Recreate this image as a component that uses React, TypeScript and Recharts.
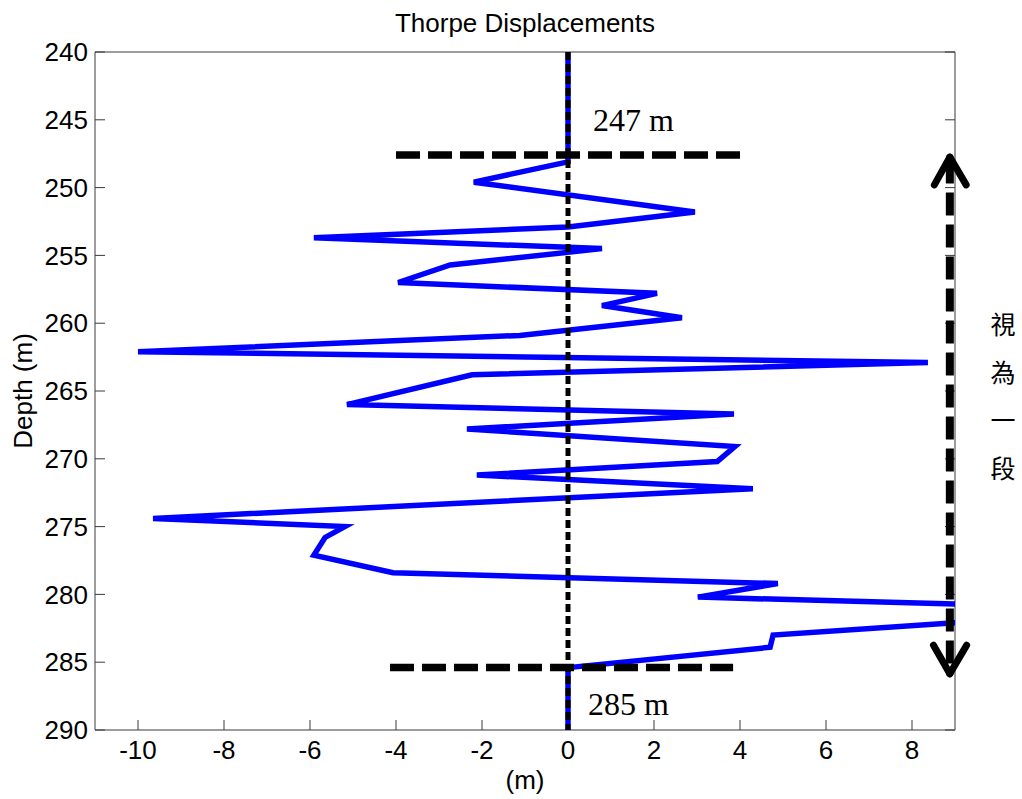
import { ScatterChart, Scatter, XAxis, YAxis, ReferenceLine } from 'recharts';

// Thorpe displacement profile (depth in m, displacement in m)
const depths = [
  240, 248.1, 249.6, 251.8, 252.9, 253.7, 254.5, 255.7, 257.0, 257.8, 258.7,
  259.6, 260.9, 262.1, 262.9, 263.8, 266.0, 266.7, 267.8, 269.1, 270.2,
  271.2, 272.2, 274.4, 275.0, 275.8, 277.1, 278.4, 279.2, 280.2, 280.8,
  281.9, 283.0, 283.9, 285.4, 290,
];
const displacements = [
  0, 0, -2.19, 2.95, 0, -5.91, 0.79, -2.74, -3.95, 2.07, 0.79,
  2.65, -1.12, -10.0, 8.37, -2.23, -5.14, 3.86, -2.35, 3.88, 3.47,
  -2.12, 4.3, -9.65, -5.19, -5.65, -5.91, -4.07, 4.88, 3.02, 10.0,
  9.9, 4.77, 4.7, 0, 0,
];

const xTicks = [-10, -8, -6, -4, -2, 0, 2, 4, 6, 8];
const yTicks = [240, 245, 250, 255, 260, 265, 270, 275, 280, 285, 290];

// overturning segment limits and annotation lines
const topDepth = 247.6;
const bottomDepth = 285.4;
const arrowX = 8.88;
const zeroLine = [{ x: 0, depth: 240 }, { x: 0, depth: 290 }];
const topLimit = [{ x: -4, depth: topDepth }, { x: 4, depth: topDepth }];
const bottomLimit = [{ x: -4.14, depth: bottomDepth }, { x: 3.84, depth: bottomDepth }];

const profile = depths.map((depth, i) => ({ x: displacements[i], depth }));

const SANS = '"Liberation Sans", Arial, sans-serif';
const SERIF = '"Liberation Serif", "Times New Roman", serif';
const CJK = '"Noto Sans CJK TC", "Noto Sans CJK SC", sans-serif';
const AXIS = '#3a3a3a';
const tickStyle = { fontSize: 26, fill: '#000', fontFamily: SANS };

const NoDot = () => <g />;
const blank = () => '';

export default function App() {
  return (
    <div style={{ position: 'absolute', left: 0, top: 0, width: 1022, height: 799, background: '#fff' }}>
      <ScatterChart width={1022} height={799} margin={{ top: 0, right: 0, bottom: 0, left: 0 }}>
        <XAxis
          type="number"
          dataKey="x"
          domain={[-11, 9]}
          ticks={xTicks}
          interval={0}
          allowDataOverflow
          height={69}
          tickSize={-10}
          tickMargin={21}
          tick={tickStyle}
          axisLine={{ stroke: AXIS }}
          tickLine={{ stroke: AXIS }}
        />
        <XAxis
          xAxisId="top"
          orientation="top"
          type="number"
          domain={[-11, 9]}
          ticks={xTicks}
          interval={0}
          allowDataOverflow
          height={52}
          tickSize={-10}
          tickFormatter={blank}
          axisLine={{ stroke: AXIS }}
          tickLine={{ stroke: AXIS }}
        />
        <YAxis
          type="number"
          dataKey="depth"
          domain={[240, 290]}
          ticks={yTicks}
          interval={0}
          reversed
          allowDataOverflow
          width={95}
          tickSize={-10}
          tickMargin={17}
          tick={tickStyle}
          axisLine={{ stroke: AXIS }}
          tickLine={{ stroke: AXIS }}
        />
        <YAxis
          yAxisId="right"
          orientation="right"
          type="number"
          domain={[240, 290]}
          ticks={yTicks}
          interval={0}
          reversed
          allowDataOverflow
          width={67}
          tickSize={-10}
          tickFormatter={blank}
          axisLine={{ stroke: AXIS }}
          tickLine={{ stroke: AXIS }}
        />
        <Scatter
          data={profile}
          line={{ stroke: '#0000ff', strokeWidth: 5.5 }}
          shape={NoDot}
          isAnimationActive={false}
        />
        <Scatter
          data={zeroLine}
          line={{ stroke: '#000', strokeWidth: 5, strokeDasharray: '8 4' }}
          shape={NoDot}
          isAnimationActive={false}
        />
        <Scatter
          data={topLimit}
          line={{ stroke: '#000', strokeWidth: 7.5, strokeDasharray: '24 8' }}
          shape={NoDot}
          isAnimationActive={false}
        />
        <Scatter
          data={bottomLimit}
          line={{ stroke: '#000', strokeWidth: 7.5, strokeDasharray: '24 8' }}
          shape={NoDot}
          isAnimationActive={false}
        />
        <ReferenceLine
          segment={[{ x: arrowX, y: 248.0 }, { x: arrowX, y: 285.8 }]}
          stroke="#000"
          strokeWidth={8}
          strokeDasharray="23 9"
          ifOverflow="visible"
          zIndex={700}
        />
        <ReferenceLine segment={[{ x: 8.52, y: 249.8 }, { x: arrowX, y: 247.75 }]} stroke="#000" strokeWidth={7} strokeLinecap="round" ifOverflow="visible" zIndex={700} />
        <ReferenceLine segment={[{ x: arrowX, y: 247.75 }, { x: 9.26, y: 249.8 }]} stroke="#000" strokeWidth={7} strokeLinecap="round" ifOverflow="visible" zIndex={700} />
        <ReferenceLine segment={[{ x: 8.5, y: 283.75 }, { x: arrowX, y: 285.85 }]} stroke="#000" strokeWidth={7} strokeLinecap="round" ifOverflow="visible" zIndex={700} />
        <ReferenceLine segment={[{ x: arrowX, y: 285.85 }, { x: 9.27, y: 283.75 }]} stroke="#000" strokeWidth={7} strokeLinecap="round" ifOverflow="visible" zIndex={700} />
      </ScatterChart>
      <svg
        width={1022}
        height={799}
        style={{ position: 'absolute', left: 0, top: 0, pointerEvents: 'none' }}
      >
        <text x={525} y={32} textAnchor="middle" fontSize={26} fontFamily={SANS} fill="#000">
          Thorpe Displacements
        </text>
        <text
          x={32}
          y={391}
          textAnchor="middle"
          fontSize={26}
          fontFamily={SANS}
          fill="#000"
          transform="rotate(-90 32 391)"
        >
          Depth (m)
        </text>
        <text x={525} y={789} textAnchor="middle" fontSize={26} fontFamily={SANS} fill="#000">
          (m)
        </text>
        <text x={593} y={131} fontSize={32} fontFamily={SERIF} fill="#000">247 m</text>
        <text x={588} y={715} fontSize={32} fontFamily={SERIF} fill="#000">285 m</text>
        {['視', '為', '一', '段'].map((ch, i) => (
          <text
            key={ch}
            x={1003}
            y={323 + i * 48}
            textAnchor="middle"
            dominantBaseline="central"
            fontSize={25}
            fontFamily={CJK}
            fill="#000"
          >
            {ch}
          </text>
        ))}
      </svg>
    </div>
  );
}
